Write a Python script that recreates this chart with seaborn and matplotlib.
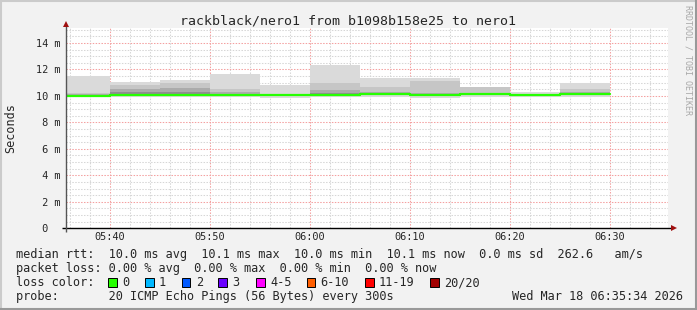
import matplotlib
matplotlib.use("Agg")
import matplotlib.pyplot as plt
import seaborn as sns
import numpy as np
import pandas as pd
from matplotlib.patches import Rectangle
from matplotlib.lines import Line2D

# ---------------- data ----------------
title = "rackblack/nero1 from b1098b158e25 to nero1"
seg_start = ["05:35", "05:40", "05:45", "05:50", "05:55", "06:00",
             "06:05", "06:10", "06:15", "06:20", "06:25"]
seg_end = "06:30"
median_ms = [9.98, 10.05, 10.05, 10.05, 10.03, 10.05, 10.12, 10.05, 10.12, 10.07, 10.12]
smoke_min = [9.92, 9.95, 9.95, 9.95, 9.87, 9.95, 9.95, 9.87, 9.95, 9.90, 9.92]
smoke_max = [11.50, 11.05, 11.20, 11.65, 10.83, 12.35, 11.37, 11.37, 10.70, 10.28, 11.00]
band2_hi = [10.25, 10.80, 10.95, 10.50, 10.10, 11.00, 10.70, 11.12, 10.68, 10.15, 10.55]
band3_hi = [10.15, 10.55, 10.60, 10.30, 10.05, 10.45, 10.33, 10.22, 10.25, 10.10, 10.30]
band4_hi = [10.07, 10.33, 10.30, 10.15, 10.03, 10.25, 10.20, 10.10, 10.17, 10.08, 10.20]

xtick_labels = ["05:40", "05:50", "06:00", "06:10", "06:20", "06:30"]
ytick_values = [0, 2, 4, 6, 8, 10, 12, 14]
ytick_labels = [" 0", " 2 m", " 4 m", " 6 m", " 8 m", "10 m", "12 m", "14 m"]
ylabel = "Seconds"

line_rtt = "median rtt:  10.0 ms avg  10.1 ms max  10.0 ms min  10.1 ms now  0.0 ms sd  262.6   am/s"
line_loss = "packet loss: 0.00 % avg  0.00 % max  0.00 % min  0.00 % now"
line_color = "loss color:"
loss_labels = ["0", "1", "2", "3", "4-5", "6-10", "11-19", "20/20"]
loss_colors = ["#26ff00", "#00b8ff", "#0059ff", "#6a00ff", "#ff00ff", "#ff5e00", "#ff0000", "#a10000"]
line_probe = "probe:       20 ICMP Echo Pings (56 Bytes) every 300s"
stamp = "Wed Mar 18 06:35:34 2026"
watermark = "RRDTOOL / TOBI OETIKER"

# ---------------- helpers ----------------
W, H = 697, 310
def fx(px):
    return px / W
def fy(py):
    return 1 - py / H
def to_min(s):
    h, m = s.split(":")
    return int(h) * 60 + int(m)

MONO = "DejaVu Sans Mono"
sns.set_style("white")
plt.rcParams["font.family"] = [MONO, "DejaVu Sans"]

fig = plt.figure(figsize=(W / 100, H / 100), dpi=100, facecolor="#f2f2f2")
ax_left, ax_right, ax_top, ax_bot = 66, 668, 27.7, 228.3
ax = fig.add_axes([fx(ax_left), fy(ax_bot), fx(ax_right - ax_left), (ax_bot - ax_top) / H])
ax.set_facecolor("white")

x_edges = [to_min(t) for t in seg_start] + [to_min(seg_end)]
def ext(v):
    return list(v) + [v[-1]]

med_ext = ext(median_ms)
# smoke layers
ax.fill_between(x_edges, ext(smoke_min), ext(smoke_max), step="post", color="#dadada", lw=0, zorder=2)
ax.fill_between(x_edges, med_ext, ext(band2_hi), step="post", color="#c6c6c6", lw=0, zorder=2)
ax.fill_between(x_edges, med_ext, ext(band3_hi), step="post", color="#ababab", lw=0, zorder=2)
ax.fill_between(x_edges, med_ext, ext(band4_hi), step="post", color="#8e8e8e", lw=0, zorder=2)

df = pd.DataFrame({"t": x_edges, "median": med_ext})
sns.lineplot(data=df, x="t", y="median", ax=ax, estimator=None, sort=False,
             drawstyle="steps-post", color="#26ff00", linewidth=1.6, zorder=5)

ax.set_xlim(to_min("05:40") - 4.4, to_min("05:40") + 55.8)
ax.set_ylim(0, 15.15)

# grid
ax.set_xticks([to_min(t) for t in xtick_labels], labels=xtick_labels)
ax.set_xticks(np.arange(to_min("05:36"), to_min("06:36"), 2), minor=True)
ax.set_yticks(ytick_values, labels=ytick_labels)
ax.set_yticks(np.arange(0.5, 15.1, 0.5), minor=True)
ax.grid(which="minor", color="#d6d6d6", linestyle=(0, (1.4, 1.4)), linewidth=0.75, zorder=1)
ax.grid(which="major", color="#f4a0a0", linestyle=(0, (1.4, 1.4)), linewidth=0.75, zorder=1)
ax.set_axisbelow(True)
for s in ax.spines.values():
    s.set_visible(False)
ax.tick_params(axis="both", which="both", length=0)
ax.tick_params(axis="x", pad=2.6, labelsize=7.4)
ax.tick_params(axis="y", pad=21.6, labelsize=7.4)
for tl in ax.get_yticklabels():
    tl.set_horizontalalignment("left")
ax.set_xlabel("")
ax.set_ylabel("")

# axes lines with arrows
aw = ax_right - ax_left
ah = ax_bot - ax_top
ax.plot([-4 / aw, 1 + 4 / aw], [0, 0], transform=ax.transAxes, color="black", lw=1.0,
        clip_on=False, zorder=6, solid_capstyle="butt")
ax.plot([0, 0], [-4 / ah, 1 + 1.5 / ah], transform=ax.transAxes, color="#555555", lw=1.0,
        clip_on=False, zorder=6, solid_capstyle="butt")
ax.plot([1 + 5.5 / aw], [0], transform=ax.transAxes, marker=">", color="#a01010",
        markersize=4.2, clip_on=False, zorder=7, mew=0)
ax.plot([0], [1 + 3.6 / ah], transform=ax.transAxes, marker="^", color="#a01010",
        markersize=4.2, clip_on=False, zorder=7, mew=0)

# texts
fig.text(0.5, fy(24), title, ha="center", va="baseline", fontsize=9.55, family=MONO)
fig.text(fx(11), fy(128), ylabel, ha="center", va="center", rotation=90, fontsize=8.5, family=MONO)
fig.text(fx(688), fy(5), watermark, ha="center", va="top", rotation=270, fontsize=6.0,
         family=MONO, color="#a8a8a8")

LX = 16
fs_leg = 8.55
fig.text(fx(LX), fy(257.6), line_rtt, ha="left", va="baseline", fontsize=fs_leg, family=MONO)
fig.text(fx(LX), fy(271.8), line_loss, ha="left", va="baseline", fontsize=fs_leg, family=MONO)
fig.text(fx(LX), fy(286.0), line_color, ha="left", va="baseline", fontsize=fs_leg, family=MONO)
fig.text(fx(LX), fy(300.2), line_probe, ha="left", va="baseline", fontsize=fs_leg, family=MONO)
fig.text(fx(512), fy(300.2), stamp, ha="left", va="baseline", fontsize=fs_leg, family=MONO)

box_left = [108.3, 145.0, 181.7, 218.3, 256.0, 306.7, 365.0, 430.2]
for bl, lab, col in zip(box_left, loss_labels, loss_colors):
    fig.add_artist(Rectangle((fx(bl), fy(287.2)), 8.6 / W, 9.6 / H, facecolor=col,
                             edgecolor="black", linewidth=0.7, transform=fig.transFigure))
    fig.text(fx(bl + 14.0), fy(286.0), lab, ha="left", va="baseline", fontsize=fs_leg, family=MONO)

# 3D-ish frame
fig.add_artist(Line2D([0, 1], [fy(1), fy(1)], transform=fig.transFigure, color="#cbcbcb", lw=1.5))
fig.add_artist(Line2D([fx(1), fx(1)], [0, 1], transform=fig.transFigure, color="#cbcbcb", lw=1.5))
fig.add_artist(Line2D([0, 1], [fy(309), fy(309)], transform=fig.transFigure, color="#999999", lw=1.5))
fig.add_artist(Line2D([fx(696), fx(696)], [0, 1], transform=fig.transFigure, color="#999999", lw=1.5))

fig.savefig("out.png", dpi=100, facecolor=fig.get_facecolor())
